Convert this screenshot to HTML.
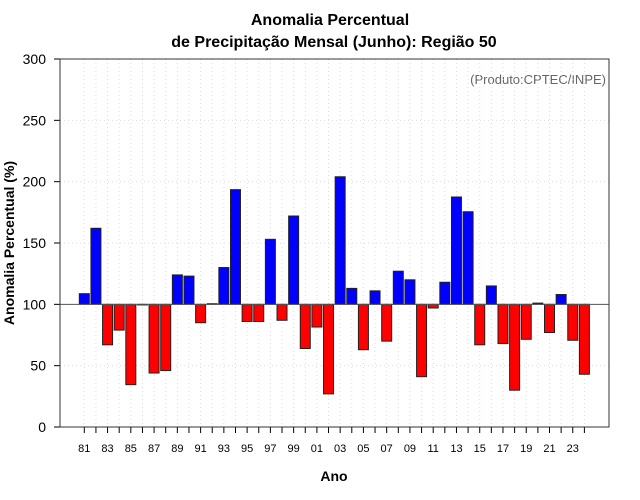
<!DOCTYPE html>
<html><head><meta charset="utf-8"><style>
body{margin:0;background:#fff;}
svg{display:block;font-family:"Liberation Sans",sans-serif;}
</style></head><body>
<svg id="chart" width="640" height="500">
<text x="330" y="25" text-anchor="middle" font-size="16" font-weight="bold">Anomalia Percentual</text>
<text x="334" y="47" text-anchor="middle" font-size="16" font-weight="bold">de Precipitação Mensal (Junho): Região 50</text>
<text x="606" y="84" text-anchor="end" font-size="13" fill="#666">(Produto:CPTEC/INPE)</text>
<text x="334" y="481" text-anchor="middle" font-size="14" font-weight="bold">Ano</text>
<text transform="translate(14,243) rotate(-90)" text-anchor="middle" font-size="14" font-weight="bold">Anomalia Percentual (%)</text>
<g id="grid"></g><g id="bars"></g><g id="axes"></g>
</svg>
<script>
const years=[81,82,83,84,85,86,87,88,89,90,91,92,93,94,95,96,97,98,99,0,1,2,3,4,5,6,7,8,9,10,11,12,13,14,15,16,17,18,19,20,21,22,23,24];
const values=[108.7,162,67,79,34.5,99.5,44,46,124,123,85,100.5,130,193.5,86,86,153,87,172,64,81.5,27,204,113,63,111,70,127,120,41,97,118,187.5,175.5,67,115,68,30,71.5,101,77,108,70.7,43];
const yTicks=[0,50,100,150,200,250,300];
const baseline=100;
const NS='http://www.w3.org/2000/svg';
const L=60,R=609,T=59,B=427;
const yS=v=>B-(v/300)*(B-T);
const xS=i=>84.3+i*11.63;
function mk(tag,attrs,parent){const e=document.createElementNS(NS,tag);for(const k in attrs)e.setAttribute(k,attrs[k]);parent.appendChild(e);return e;}
const grid=document.getElementById('grid'),bars=document.getElementById('bars'),axes=document.getElementById('axes');
yTicks.forEach(t=>{
 const g=mk('line',{x1:L,x2:R,y1:yS(t),y2:yS(t),stroke:'#ddd','stroke-dasharray':'1,3'},grid);
 
 
 const tk=mk('line',{x1:L-6,x2:L,y1:yS(t),y2:yS(t),stroke:'#000'},axes);
 
 
 const tx=mk('text',{x:L-14,y:yS(t)+5,'text-anchor':'end','font-size':'14'},axes);
 tx.textContent=t;
 
 
});
years.forEach((y,i)=>{
 const x=xS(i);
 const g=mk('line',{x1:x,x2:x,y1:T,y2:B,stroke:'#ddd','stroke-dasharray':'1,3'},grid);
 
 
 const tk=mk('line',{x1:x,x2:x,y1:B,y2:B+6,stroke:'#000'},axes);
 
 
 if(i%2===0){
  const tx=mk('text',{x:x,y:452,'text-anchor':'middle','font-size':'11'},axes);
  tx.textContent=String(y).padStart(2,'0');
  
  
 }
 const v=values[i];
 const y0=yS(Math.max(v,baseline)),y1=yS(Math.min(v,baseline));
 const r=mk('rect',{x:x-5,y:y0,width:10,height:Math.max(y1-y0,0.5),fill:v>=baseline?'#0000ff':'#ff0000',stroke:'#222','stroke-width':'1'},bars);
 
 
});
const bl=mk('line',{x1:L,x2:R,y1:yS(baseline),y2:yS(baseline),stroke:'#555','stroke-width':'1'},axes);


const box=mk('rect',{x:L,y:T,width:R-L,height:B-T,fill:'none',stroke:'#333','stroke-width':'1'},axes);


</script>
</body></html>
